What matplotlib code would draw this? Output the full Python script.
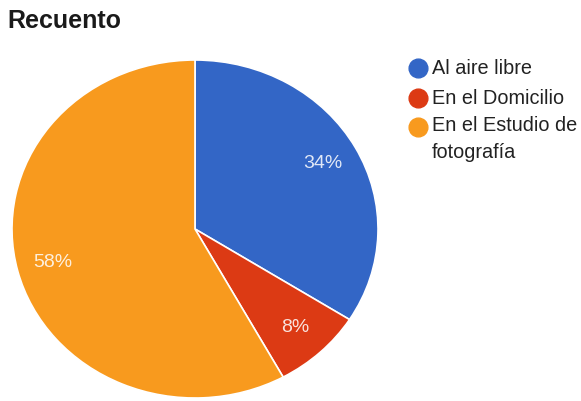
import matplotlib
matplotlib.use("Agg")
import matplotlib.pyplot as plt
from matplotlib.lines import Line2D

plt.rcParams['font.family'] = ['Liberation Sans', 'DejaVu Sans']

# Survey counts per location
categories = ["Al aire libre", "En el Domicilio", "En el Estudio de\nfotografía"]
counts = [17, 4, 29]
colors = ["#3366C6", "#DC3A14", "#F89A1E"]

W, H = 581, 401
fig = plt.figure(figsize=(W / 100, H / 100), dpi=100)
fig.patch.set_facecolor("white")

# Pie area in pixel coordinates (left, top, right, bottom)
px_l, px_t, px_r, px_b = 12, 60, 378, 398
ax = fig.add_axes([px_l / W, 1 - px_b / H, (px_r - px_l) / W, (px_b - px_t) / H])

wedges, _, autotexts = ax.pie(
    counts,
    colors=colors,
    startangle=90,
    counterclock=False,
    autopct=lambda p: f"{p:.0f}%",
    pctdistance=0.80,
    wedgeprops=dict(edgecolor="white", linewidth=1.2),
    textprops=dict(color="white", fontsize=14, alpha=0.85),
)
ax.set_aspect("auto")
ax.set_xlim(-1, 1)
ax.set_ylim(-1, 1)
ax.axis("off")

fig.text(7 / W, 1 - 28 / H, "Recuento", fontsize=18, fontweight="bold",
         color="#1a1a1a", ha="left", va="baseline")

# Legend drawn as markers with labels
legend_y = [68, 98, 127]
for y, c, lab in zip(legend_y, colors, categories):
    fig.add_artist(Line2D([418 / W], [1 - y / H], marker="o", markersize=13.5,
                          markerfacecolor=c, markeredgecolor=c, linestyle="none",
                          transform=fig.transFigure))
    if "\n" in lab:
        fig.text(432 / W, 1 - (y - 11) / H, lab, fontsize=14.3, color="#222222",
                 ha="left", va="top", linespacing=1.5)
    else:
        fig.text(432 / W, 1 - y / H, lab, fontsize=14.3, color="#222222",
                 ha="left", va="center")

fig.savefig("out.png", dpi=100, facecolor="white")
